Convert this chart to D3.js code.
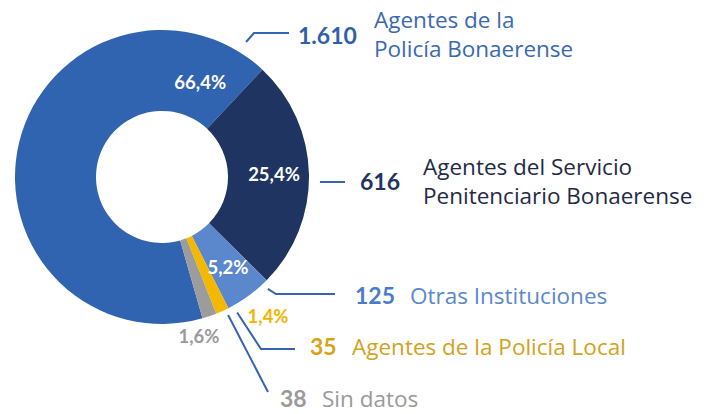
<!DOCTYPE html>
<html>
<head>
<meta charset="utf-8">
<script src="https://cdn.jsdelivr.net/npm/d3@7"></script>
<style>
  body { margin: 0; background: #fff; }
  svg { display: block; font-family: Lato, "Open Sans", sans-serif; }
</style>
</head>
<body>
<svg id="chart" width="709" height="414"></svg>
<script>
// categories and values
const categories = [
    ['Agentes de la', 'Policía Bonaerense'],
    ['Agentes del Servicio', 'Penitenciario Bonaerense'],
    ['Otras Instituciones'],
    ['Agentes de la Policía Local'],
    ['Sin datos']
];
const values = [1610, 616, 125, 35, 38];
const sliceColors = ['#3164b0', '#1f3461', '#5b88cc', '#f5b800', '#9c9c9c'];
const numberColors = ['#2f5fa9', '#1f3461', '#4a7cc9', '#d8a414', '#9a9a9a'];
const nameColors = ['#3a69b2', '#1f2b45', '#5b88cc', '#d2a221', '#9a9a9a'];
const pctColors = ['#fff', '#fff', '#fff', '#f2b400', '#9a9a9a'];

// layout of the call-outs
const leaderStart = [[31.9, 159], [91.8, 158], [136.6, 154], [151, 155], [154.4, 153]]; // angle deg, radius
const leaderPath = [
    [[254, 33], [289, 33]],
    [[345, 182]],
    [[276, 294], [335, 294]],
    [[261, 349], [295, 349]],
    [[268, 392]]
];
const numberPos = [[298, 44], [360, 190], [355, 304], [310, 355], [280, 407]];
const namePos = [[374, 28], [423, 175], [410, 304], [352, 355], [322, 407]];
const pctPos = [[22, 102], null, null, [142.7, 175], [167, 164]]; // angle deg, radius (null = centroid)

const width = 709, height = 414;
const cx = 162, cy = 177, outerR = 147, innerR = 66;

const locale = d3.formatLocale({decimal: ',', thousands: '.', grouping: [3], currency: ['$', '']});
const fmtNum = locale.format(',d');
const fmtPct = locale.format('.1f');
const total = d3.sum(values);

const svg = d3.select('#chart');
const g = svg.append('g').attr('transform', `translate(${cx},${cy})`);

const rad = d => d * Math.PI / 180;
const startA = rad(-196);
const pie = d3.pie().sort(null).startAngle(startA).endAngle(startA + 2 * Math.PI);
const arcs = pie(values);
const arc = d3.arc().innerRadius(innerR).outerRadius(outerR);
const labelArc = d3.arc().innerRadius(112).outerRadius(112);

g.selectAll('path.slice')
    .data(arcs)
  .enter().append('path')
    .attr('class', 'slice')
    .attr('d', arc)
    .attr('fill', (d, i) => sliceColors[i]);

const polar = (angle, r) => [r * Math.sin(rad(angle)), -r * Math.cos(rad(angle))];

// percentage labels
g.selectAll('text.pct')
    .data(arcs)
  .enter().append('text')
    .attr('class', 'pct')
    .attr('transform', (d, i) => {
        let p = pctPos[i] ? polar(pctPos[i][0], pctPos[i][1]) : labelArc.centroid(d);
        return `translate(${p[0]},${p[1]})`;
    })
    .attr('text-anchor', 'middle')
    .attr('dy', '0.35em')
    .attr('font-size', 18.5)
    .attr('font-weight', 700)
    .attr('fill', (d, i) => pctColors[i])
    .text(d => fmtPct(d.value / total * 100) + '%');

// leader lines
const line = d3.line();
svg.selectAll('path.leader')
    .data(leaderPath)
  .enter().append('path')
    .attr('class', 'leader')
    .attr('fill', 'none')
    .attr('stroke', '#3565b0')
    .attr('stroke-width', 2)
    .attr('d', (pts, i) => {
        let s = polar(leaderStart[i][0], leaderStart[i][1]);
        return line([[cx + s[0], cy + s[1]], ...pts]);
    });

// numbers
svg.selectAll('text.num')
    .data(values)
  .enter().append('text')
    .attr('class', 'num')
    .attr('x', (d, i) => numberPos[i][0])
    .attr('y', (d, i) => numberPos[i][1])
    .attr('font-size', 23)
    .attr('font-weight', 700)
    .attr('fill', (d, i) => numberColors[i])
    .text(d => fmtNum(d));

// names
const names = svg.selectAll('text.name')
    .data(categories)
  .enter().append('text')
    .attr('class', 'name')
    .attr('x', (d, i) => namePos[i][0])
    .attr('y', (d, i) => namePos[i][1])
    .attr('font-family', '"Open Sans", sans-serif')
    .attr('font-size', 22.5)
    .attr('fill', (d, i) => nameColors[i]);

names.selectAll('tspan')
    .data(d => d)
  .enter().append('tspan')
    .attr('x', function () { return d3.select(this.parentNode).attr('x'); })
    .attr('dy', (d, j) => j === 0 ? 0 : 28.5)
    .text(d => d);
</script>
</body>
</html>
